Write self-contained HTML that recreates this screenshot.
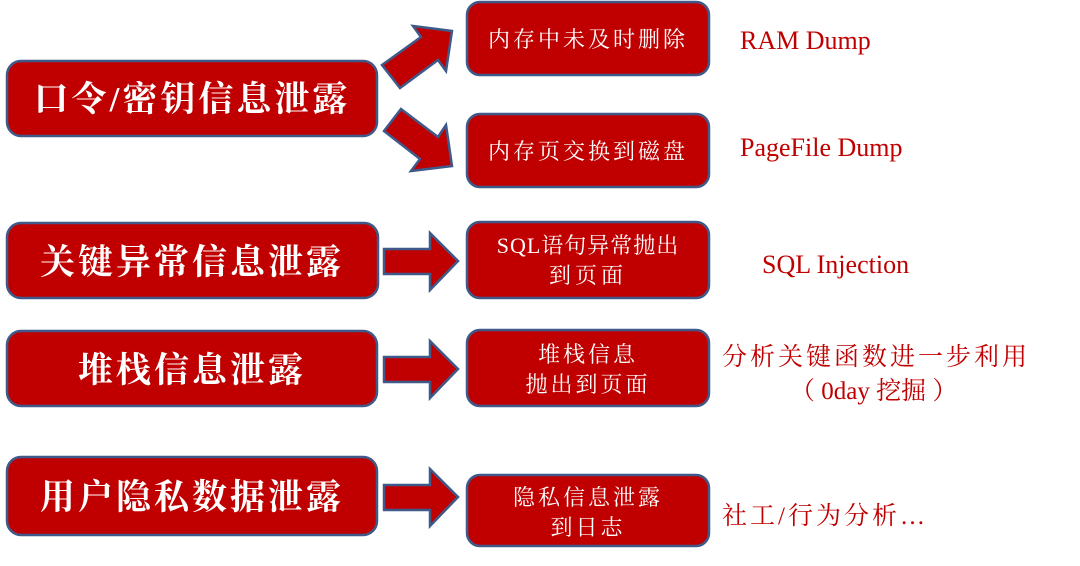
<!DOCTYPE html>
<html><head><meta charset="utf-8"><style>
body{margin:0;background:#fff;}
svg text{font-family:"Liberation Serif","Noto Serif CJK SC",serif;}
</style></head><body>
<svg width="1080" height="561" viewBox="0 0 1080 561" xmlns="http://www.w3.org/2000/svg">
<g fill="#c00000" stroke="#3f5a8a" stroke-width="2.5">
<rect x="7" y="61" width="370" height="75" rx="14"/>
<rect x="7" y="223" width="371" height="75" rx="14"/>
<rect x="7" y="331" width="370" height="75" rx="14"/>
<rect x="7" y="457" width="370" height="78" rx="14"/>
<rect x="467" y="2" width="242" height="73" rx="13"/>
<rect x="467" y="114" width="242" height="73" rx="13"/>
<rect x="467" y="222" width="242" height="76" rx="13"/>
<rect x="467" y="330" width="242" height="76" rx="13"/>
<rect x="467" y="475" width="242" height="71" rx="13"/>
<polygon points="384,249 430,249 430,233 458,261 430,290 430,274 384,274"/>
<polygon points="384,357 430,357 430,341 458,369 430,398 430,382 384,382"/>
<polygon points="384,485 430,485 430,469 458,497 430,526 430,510 384,510"/>
<polygon points="382,65 421,37 413,26 452,31 446,71 438,60 400,88"/>
<polygon points="384,131 401,109 438,137 446,125 452,166 411,171 420,159"/>
</g>
<g fill="#fff" text-anchor="middle" font-weight="bold">
<text x="192" y="111" font-size="35" letter-spacing="3">口令/密钥信息泄露</text>
<text x="192" y="274" font-size="35" letter-spacing="3">关键异常信息泄露</text>
<text x="192" y="382" font-size="35" letter-spacing="3">堆栈信息泄露</text>
<text x="192" y="509" font-size="35" letter-spacing="3">用户隐私数据泄露</text>
</g>
<g fill="#fff" text-anchor="middle">
<text x="588" y="47" font-size="22" letter-spacing="3">内存中未及时删除</text>
<text x="588" y="159" font-size="22" letter-spacing="3">内存页交换到磁盘</text>
<text x="588" y="253" font-size="22" letter-spacing="1">SQL语句异常抛出</text>
<text x="588" y="283" font-size="22" letter-spacing="4">到页面</text>
<text x="588" y="362" font-size="22" letter-spacing="3">堆栈信息</text>
<text x="588" y="392" font-size="22" letter-spacing="3">抛出到页面</text>
<text x="588" y="505" font-size="22" letter-spacing="3">隐私信息泄露</text>
<text x="588" y="535" font-size="22" letter-spacing="3">到日志</text>
</g>
<g fill="#c00000" font-size="26">
<text x="740" y="49">RAM Dump</text>
<text x="740" y="156">PageFile Dump</text>
<text x="762" y="273">SQL Injection</text>
<text x="722" y="365" font-size="25" letter-spacing="3">分析关键函数进一步利用</text>
<text x="790" y="399" font-size="25">（ 0day 挖掘 ）</text>
<text x="722" y="524" font-size="25" letter-spacing="3">社工/行为分析…</text>
</g>
</svg>
</body></html>
